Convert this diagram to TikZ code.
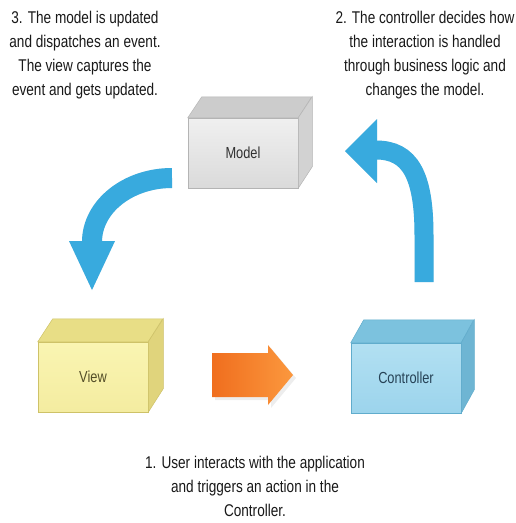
\documentclass[tikz,border=0pt]{standalone}
\usepackage{fontspec}
\setmainfont{Liberation Sans}[FakeStretch=0.8]
\definecolor{modelFrontA}{RGB}{240,240,240}
\definecolor{modelFrontB}{RGB}{218,218,218}
\definecolor{modelTop}{RGB}{204,204,204}
\definecolor{modelSide}{RGB}{210,210,210}
\definecolor{modelEdge}{RGB}{180,180,180}
\definecolor{modelText}{RGB}{50,50,50}
\definecolor{viewFrontA}{RGB}{250,245,178}
\definecolor{viewFrontB}{RGB}{244,236,160}
\definecolor{viewTop}{RGB}{232,222,134}
\definecolor{viewSide}{RGB}{224,212,124}
\definecolor{viewEdge}{RGB}{206,194,104}
\definecolor{viewText}{RGB}{84,78,40}
\definecolor{ctrlFrontA}{RGB}{178,224,242}
\definecolor{ctrlFrontB}{RGB}{156,212,236}
\definecolor{ctrlTop}{RGB}{124,194,222}
\definecolor{ctrlSide}{RGB}{110,181,211}
\definecolor{ctrlEdge}{RGB}{96,172,204}
\definecolor{ctrlText}{RGB}{38,66,86}
\definecolor{arrowBlue}{RGB}{56,170,222}
\definecolor{arrowOrangeA}{RGB}{240,110,30}
\definecolor{arrowOrangeB}{RGB}{251,152,62}

\begin{document}
\begin{tikzpicture}[x=1pt, y=-1pt]
\tikzstyle{block} = [rectangle, minimum width=110pt, minimum height=70pt, inner sep=0pt, line width=0.5pt, font=\fontsize{16}{18}\selectfont]
\tikzstyle{note} = [align=center, inner sep=0pt, text=black!90, font=\fontsize{17}{24}\selectfont]
\tikzstyle{curvedArrow} = [line width=20pt]
\useasboundingbox (0,0) rectangle (516,523);
\node (noteUpdate) at (85,55) [note] {3. The model is updated\\and dispatches an event.\\The view captures the\\event and gets updated.};
\node (noteDecide) at (425,55) [note] {2. The controller decides how\\the interaction is handled\\through business logic and\\changes the model.};
\node (noteAction) at (255,486) [note] {1. User interacts with the application\\and triggers an action in the\\Controller.};
\node (Model) at (243,153) [block, top color=modelFrontA, bottom color=modelFrontB, draw=modelEdge, text=modelText] {Model};
\filldraw[fill=modelTop, draw=modelEdge, line width=0.5pt] (Model.north west) -- ++(14,-21) -- ++(110,0) -- (Model.north east) -- cycle;
\filldraw[fill=modelSide, draw=modelEdge, line width=0.5pt] (Model.north east) -- ++(14,-21) -- ++(0,70) -- (Model.south east) -- cycle;
\node (View) at (93,377) [block, top color=viewFrontA, bottom color=viewFrontB, draw=viewEdge, text=viewText] {View};
\filldraw[fill=viewTop, draw=viewEdge, line width=0.5pt] (View.north west) -- ++(15,-23) -- ++(110,0) -- (View.north east) -- cycle;
\filldraw[fill=viewSide, draw=viewEdge, line width=0.5pt] (View.north east) -- ++(15,-23) -- ++(0,70) -- (View.south east) -- cycle;
\node (Controller) at (406,378) [block, top color=ctrlFrontA, bottom color=ctrlFrontB, draw=ctrlEdge, text=ctrlText] {Controller};
\filldraw[fill=ctrlTop, draw=ctrlEdge, line width=0.5pt] (Controller.north west) -- ++(13,-23) -- ++(110,0) -- (Controller.north east) -- cycle;
\filldraw[fill=ctrlSide, draw=ctrlEdge, line width=0.5pt] (Controller.north east) -- ++(13,-23) -- ++(0,70) -- (Controller.south east) -- cycle;
\coordinate (m2vStart) at (172,178);
\coordinate (m2vEnd) at (92,242);
\coordinate (m2vTip) at (92,290);
\coordinate (c2mStart) at (424,282);
\coordinate (c2mEnd) at (376,150);
\coordinate (c2mTip) at (345,151);
\coordinate (actTail) at (212,375);
\coordinate (actTip) at (293,375);
\foreach \off/\tone/\op in {3/black/0.07, 0/arrowBlue/1}{
  \begin{scope}[shift={(\off,\off)}, opacity=\op]
    \draw[curvedArrow, draw=\tone] (m2vStart) arc[start angle=270, end angle=180, x radius=80, y radius=64];
    \fill[\tone] (m2vEnd) ++(-23,-1) -- ++(46,0) -- (m2vTip) -- cycle;
    \draw[curvedArrow, draw=\tone, line width=19pt] (c2mStart) -- ++(0,-47) .. controls +(0,-60) and +(34,0) .. (c2mEnd);
    \fill[\tone] (c2mEnd) ++(1,-31) -- (c2mTip) -- ++(32,32) -- cycle;
  \end{scope}
}
\fill[black, opacity=0.07] (actTail) ++(3,-19) -- ++(56,0) -- ++(0,-8) -- ++(25,30) -- ++(-25,30) -- ++(0,-8) -- ++(-56,0) -- cycle;
\shade[left color=arrowOrangeA, right color=arrowOrangeB] (actTail) ++(0,-22) -- ++(56,0) -- ++(0,-8) -- (actTip) -- ++(-25,30) -- ++(0,-8) -- ++(-56,0) -- cycle;
\end{tikzpicture}
\end{document}
